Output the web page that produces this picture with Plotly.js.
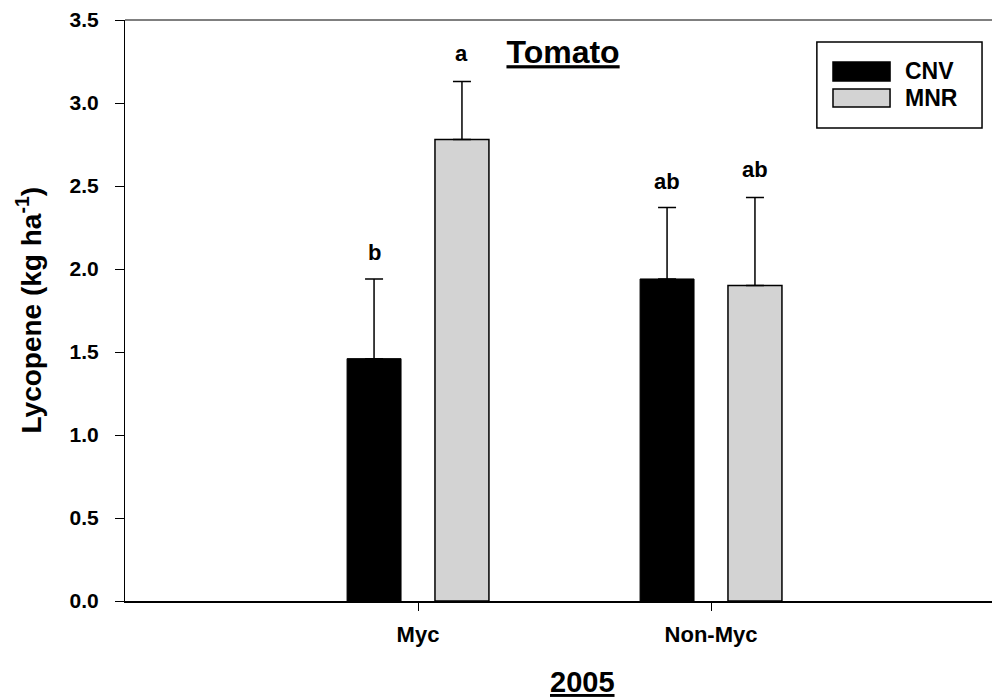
<!DOCTYPE html>
<html>
<head>
<meta charset="utf-8">
<script src="https://cdn.plot.ly/plotly-3.0.1.min.js"></script>
<style>html,body{margin:0;padding:0;background:#fff;}</style>
</head>
<body>
<div id="chart" style="width:992px;height:699px"></div>
<script>
// Lycopene yield by mycorrhizal treatment, 2005
const groups = ['Myc', 'Non-Myc'];
const seriesNames = ['CNV', 'MNR'];
const cnvMean = [1.46, 1.94];
const cnvErr = [0.48, 0.43];
const mnrMean = [2.78, 1.90];
const mnrErr = [0.35, 0.53];
const cnvLetters = ['b', 'ab'];
const mnrLetters = ['a', 'ab'];
const yTicks = [0, 0.5, 1.0, 1.5, 2.0, 2.5, 3.0, 3.5];

const seriesColors = ['#000000', '#d3d3d3'];
const FONT = 'Liberation Sans, Arial, Helvetica, sans-serif';
const BARGAP = 0.4;
const BARGROUPGAP = 0.386;

function barTrace(name, mean, err, color, outline) {
  return {
    type: 'bar',
    name: name,
    x: groups,
    y: mean,
    marker: { color: color, line: { color: '#000', width: outline } },
    error_y: {
      type: 'data', symmetric: false,
      array: err, arrayminus: err.map(() => 0),
      color: '#000', thickness: 1.5, width: 9
    },
    showlegend: false,
    hoverinfo: 'skip'
  };
}

const traces = [
  barTrace(seriesNames[0], cnvMean, cnvErr, seriesColors[0], 1),
  barTrace(seriesNames[1], mnrMean, mnrErr, seriesColors[1], 1.5)
];

const boldFont = (size) => ({ family: FONT, size: size, color: '#000', weight: 'bold' });

// significance letters above each error bar
const slot = (1 - BARGAP) / 2;
const annotations = [];
groups.forEach((g, i) => {
  annotations.push({
    x: i - slot / 2, y: cnvMean[i] + cnvErr[i], xref: 'x', yref: 'y',
    text: cnvLetters[i], showarrow: false,
    yanchor: 'middle', yshift: 26, font: boldFont(22)
  });
  annotations.push({
    x: i + slot / 2, y: mnrMean[i] + mnrErr[i], xref: 'x', yref: 'y',
    text: mnrLetters[i], showarrow: false,
    yanchor: 'middle', yshift: 28, font: boldFont(22)
  });
});

// axis titles
annotations.push({
  xref: 'paper', yref: 'paper', x: 0, y: 0.5, xshift: -96,
  xanchor: 'center', yanchor: 'middle', textangle: -90, showarrow: false,
  text: 'Lycopene (kg ha<sup>-1</sup>)',
  font: boldFont(28)
});
annotations.push({
  xref: 'paper', yref: 'paper', x: 0.5277, y: -0.1394,
  xanchor: 'center', yanchor: 'middle', showarrow: false,
  text: '2005',
  font: Object.assign(boldFont(29), { lineposition: 'under' })
});

// legend labels
const legendTextY = [0.9114, 0.8657];
seriesNames.forEach((n, k) => {
  annotations.push({
    xref: 'paper', yref: 'paper', x: 0.8974, y: legendTextY[k],
    xanchor: 'left', yanchor: 'middle', showarrow: false,
    text: n, font: boldFont(23)
  });
});

const legendSwatchY = [[0.895, 0.9277], [0.8503, 0.8812]];
const shapes = [
  // top frame line
  { type: 'line', xref: 'paper', yref: 'paper', x0: 0, x1: 1, y0: 1, y1: 1,
    line: { color: '#000', width: 1 } },
  // legend box
  { type: 'rect', xref: 'paper', yref: 'paper', x0: 0.798, x1: 0.9885, y0: 0.814, y1: 0.962,
    line: { color: '#000', width: 1.5 }, fillcolor: 'rgba(0,0,0,0)' }
];
seriesNames.forEach((n, k) => {
  shapes.push({
    type: 'rect', xref: 'paper', yref: 'paper',
    x0: 0.8166, x1: 0.8824, y0: legendSwatchY[k][0], y1: legendSwatchY[k][1],
    line: { color: '#000', width: 1.5 }, fillcolor: seriesColors[k]
  });
});

const layout = {
  width: 992, height: 699,
  margin: { l: 125, r: 0, t: 20, b: 98 },
  paper_bgcolor: '#fff', plot_bgcolor: '#fff',
  font: { family: FONT, color: '#000' },
  barmode: 'group', bargap: BARGAP, bargroupgap: BARGROUPGAP,
  showlegend: false,
  title: {
    text: 'Tomato',
    x: 0.5676, xanchor: 'center', xref: 'container',
    y: 0.9256, yanchor: 'middle', yref: 'container',
    font: Object.assign(boldFont(32), { lineposition: 'under' })
  },
  xaxis: {
    type: 'category', range: [-1, 1.959],
    showline: true, linecolor: '#000', linewidth: 2,
    ticks: 'outside', ticklen: 8, tickwidth: 1, tickcolor: '#000',
    ticklabelstandoff: 5,
    tickfont: boldFont(22),
    showgrid: false, zeroline: false, fixedrange: true
  },
  yaxis: {
    range: [0, 3.5], tickvals: yTicks, tickformat: '.1f',
    showline: true, linecolor: '#000', linewidth: 1,
    ticks: 'outside', ticklen: 9, tickwidth: 1, tickcolor: '#000',
    ticklabelstandoff: 12,
    tickfont: boldFont(21),
    showgrid: false, zeroline: false, fixedrange: true
  },
  annotations: annotations,
  shapes: shapes
};

Plotly.newPlot('chart', traces, layout, { displayModeBar: false, staticPlot: true });
</script>
</body>
</html>
